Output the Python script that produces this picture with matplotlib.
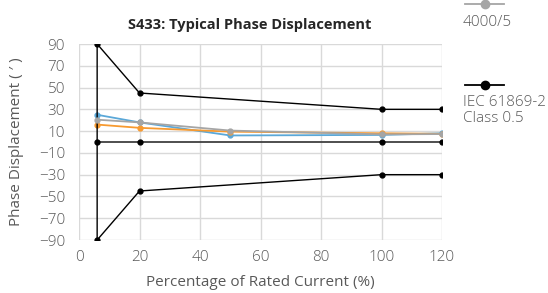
import matplotlib.pyplot as plt
from matplotlib.lines import Line2D

plt.rcParams['font.family'] = ['Open Sans', 'DejaVu Sans']
plt.rcParams['font.weight'] = 'light'

# data
pct = [6, 20, 50, 100, 120]
blue_vals = [25, 18, 6, 6.5, 8]
orange_vals = [16, 13, 9.5, 8, 7.5]
grey_vals = [20.5, 18, 10.5, 7, 7.3]

limit_pct = [120, 100, 20, 6, 6, 20, 100, 120]
limit_vals = [30, 30, 45, 90, -90, -45, -30, -30]
zero_pct = [6, 20, 100, 120]
zero_vals = [0, 0, 0, 0]

yticks = list(range(-90, 91, 20))
xticks = list(range(0, 121, 20))

fig = plt.figure(figsize=(5.48, 2.93), dpi=100)
ax = fig.add_axes([79 / 548, 1 - 240 / 293, 363 / 548, 196 / 293])

text_col = '#595959'
grid_col = '#d9d9d9'
fs = 11

ax.plot(pct, blue_vals, color='#5ba8d8', lw=1.3, marker='o', ms=3.5, zorder=3)
ax.plot(pct, orange_vals, color='#f79a30', lw=1.3, marker='o', ms=3.5, zorder=3)
ax.plot(pct, grey_vals, color='#a5a5a5', lw=1.3, marker='o', ms=3.5, zorder=4)
ax.plot(zero_pct, zero_vals, color='#404040', lw=1.3, marker='o', ms=3.5,
        mfc='black', mec='black', zorder=3)
ax.plot(limit_pct, limit_vals, color='black', lw=1.0, marker='o', ms=3.5, zorder=3)

ax.set_xlim(0, 120)
ax.set_ylim(-90, 90)
ax.set_xticks(xticks)
ax.set_yticks(yticks)
ax.grid(True, color=grid_col, lw=1.0)
ax.set_axisbelow(True)
for s in ax.spines.values():
    s.set_visible(False)
ax.tick_params(axis='y', length=0, labelsize=fs, labelcolor=text_col, pad=10)
ax.tick_params(axis='x', length=0, labelsize=fs, labelcolor=text_col, pad=7)

ax.set_title('S433: Typical Phase Displacement', fontsize=10.5, fontweight='bold',
             color='#262626', pad=11, x=(250 - 79) / 363)
ax.set_xlabel('Percentage of Rated Current (%)', fontsize=fs, color=text_col)
ax.set_ylabel('Phase Displacement ( \u2032 )', fontsize=fs, color=text_col)
ax.xaxis.set_label_coords(0.5, -(283 - 240) / 196, transform=ax.transAxes)
ax.yaxis.set_label_coords(-(79 - 17) / 363, 0.5, transform=ax.transAxes)
ax.xaxis.label.set_va('center')
ax.yaxis.label.set_va('center')

# legend entries (partly cut off at top, like the reference)
def legend_entry(y_px, color, mcolor, label_lines, ms):
    y = 1 - y_px / 293
    fig.add_artist(Line2D([465 / 548, 504 / 548], [y, y], color=color, lw=1.3,
                          transform=fig.transFigure))
    fig.add_artist(Line2D([485 / 548], [y], color=mcolor, marker='o', ms=ms,
                          transform=fig.transFigure))
    for i, t in enumerate(label_lines):
        fig.text(463 / 548, 1 - (y_px + 18 + 16 * i) / 293, t, fontsize=fs,
                 color=text_col, ha='left', va='center')

legend_entry(4, '#a5a5a5', '#a5a5a5', ['4000/5'], 6)
legend_entry(85, 'black', 'black', ['IEC 61869-2', 'Class 0.5'], 6)

fig.savefig('out.png', dpi=100)
